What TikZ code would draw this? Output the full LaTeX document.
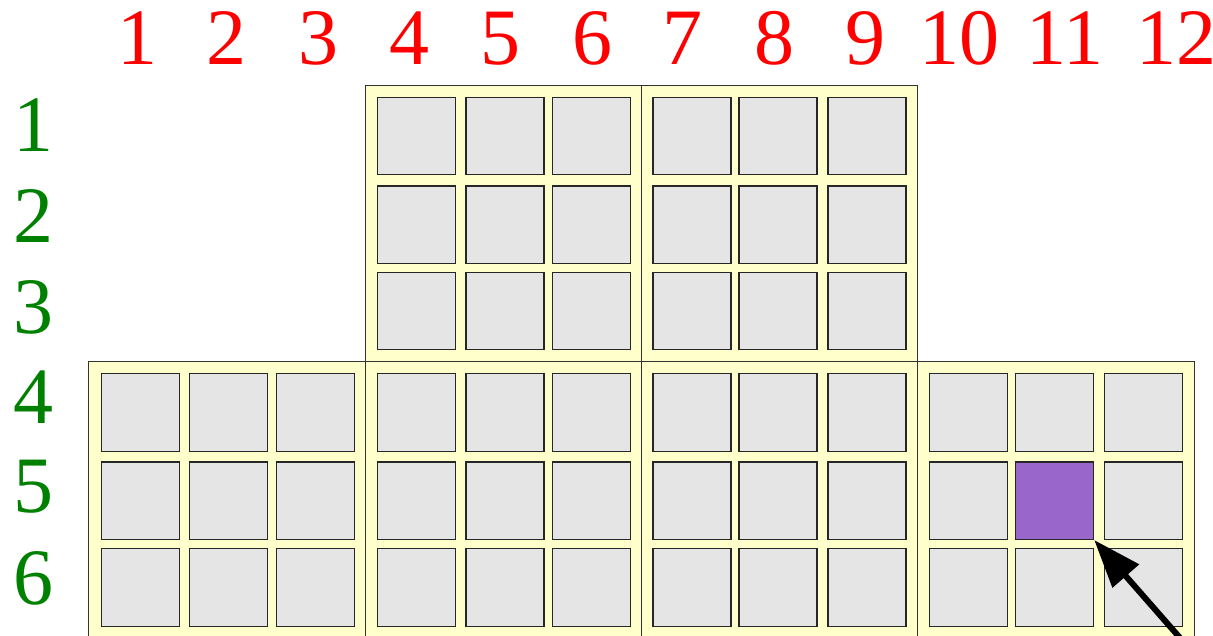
\documentclass[tikz,border=0pt]{standalone}
\usepackage{fontspec}
\setmainfont{Liberation Serif}
\usetikzlibrary{arrows.meta}
\definecolor{blockyellow}{HTML}{FFFFCC}
\definecolor{cellgray}{HTML}{E5E5E5}
\definecolor{cellpurple}{HTML}{9966CC}
\definecolor{labelgreen}{HTML}{008000}
\definecolor{labelred}{HTML}{FF0000}
\begin{document}
\begin{tikzpicture}[x=1pt,y=-1pt,
  block/.style={draw=black!80, fill=blockyellow, line width=1pt, rectangle, inner sep=0pt, anchor=north west},
  cell/.style={draw=black!85, line width=1.2pt, rectangle, inner sep=0pt, minimum width=78pt, minimum height=77.5pt, anchor=north west},
  collabel/.style={text=labelred, font=\fontsize{80}{80}\selectfont, anchor=base, inner sep=0pt},
  rowlabel/.style={text=labelgreen, font=\fontsize{80}{80}\selectfont, anchor=base, inner sep=0pt},
  bigarrow/.style={line width=6pt, draw=black, -{Triangle[length=48pt,width=34pt]}}]
\useasboundingbox (0,0) rectangle (1213,635);
\clip (0,0) rectangle (1213,635);
% blocks
\node[block, minimum width=276pt, minimum height=276pt] (bTB) at (364.5,85) {};
\node[block, minimum width=276pt, minimum height=276pt] (bTC) at (641,85) {};
\node[block, minimum width=276.5pt, minimum height=280pt] (bA) at (88.3,361) {};
\node[block, minimum width=276pt, minimum height=280pt] (bB) at (364.5,361) {};
\node[block, minimum width=276pt, minimum height=280pt] (bC) at (641,361) {};
\node[block, minimum width=276.5pt, minimum height=280pt] (bD) at (917.3,361) {};
% cells, upper part
\foreach \c/\x in {4/377,5/465.3,6/552,7/652.3,8/738.3,9/827.3}
  \foreach \r/\y in {1/96.5,2/185.3,3/271.5}
    \node[cell, fill=cellgray] (c-\r-\c) at (\x,\y) {};
% cells, lower part
\foreach \c/\x in {1/100.7,2/189,3/276,4/377,5/465.3,6/552,7/652.3,8/738.3,9/827.3,10/929,11/1015,12/1104}
  \foreach \r/\y in {4/373,5/461.3,6/548}{
    \pgfmathtruncatemacro\isP{and(\r==5,\c==11)}
    \ifnum\isP=1 \def\cf{cellpurple}\else\def\cf{cellgray}\fi
    \node[cell, fill=\cf] (c-\r-\c) at (\x,\y) {};
  }
% column labels
\foreach \n/\x in {1/137,2/226.5,3/318,4/409,5/500,6/592,7/682,8/774,9/865,10/959,11/1065,12/1176}
  \node[collabel] (col-\n) at (\x,64) {\n};
% row labels
\foreach \n/\y in {1/151,2/242,3/333,4/423,5/512,6/604}
  \node[rowlabel] (row-\n) at (33,\y) {\n};
% arrow
\coordinate (astart) at (1202,663);
\draw[bigarrow] (astart) -- (c-5-11.south east);
\end{tikzpicture}
\end{document}
